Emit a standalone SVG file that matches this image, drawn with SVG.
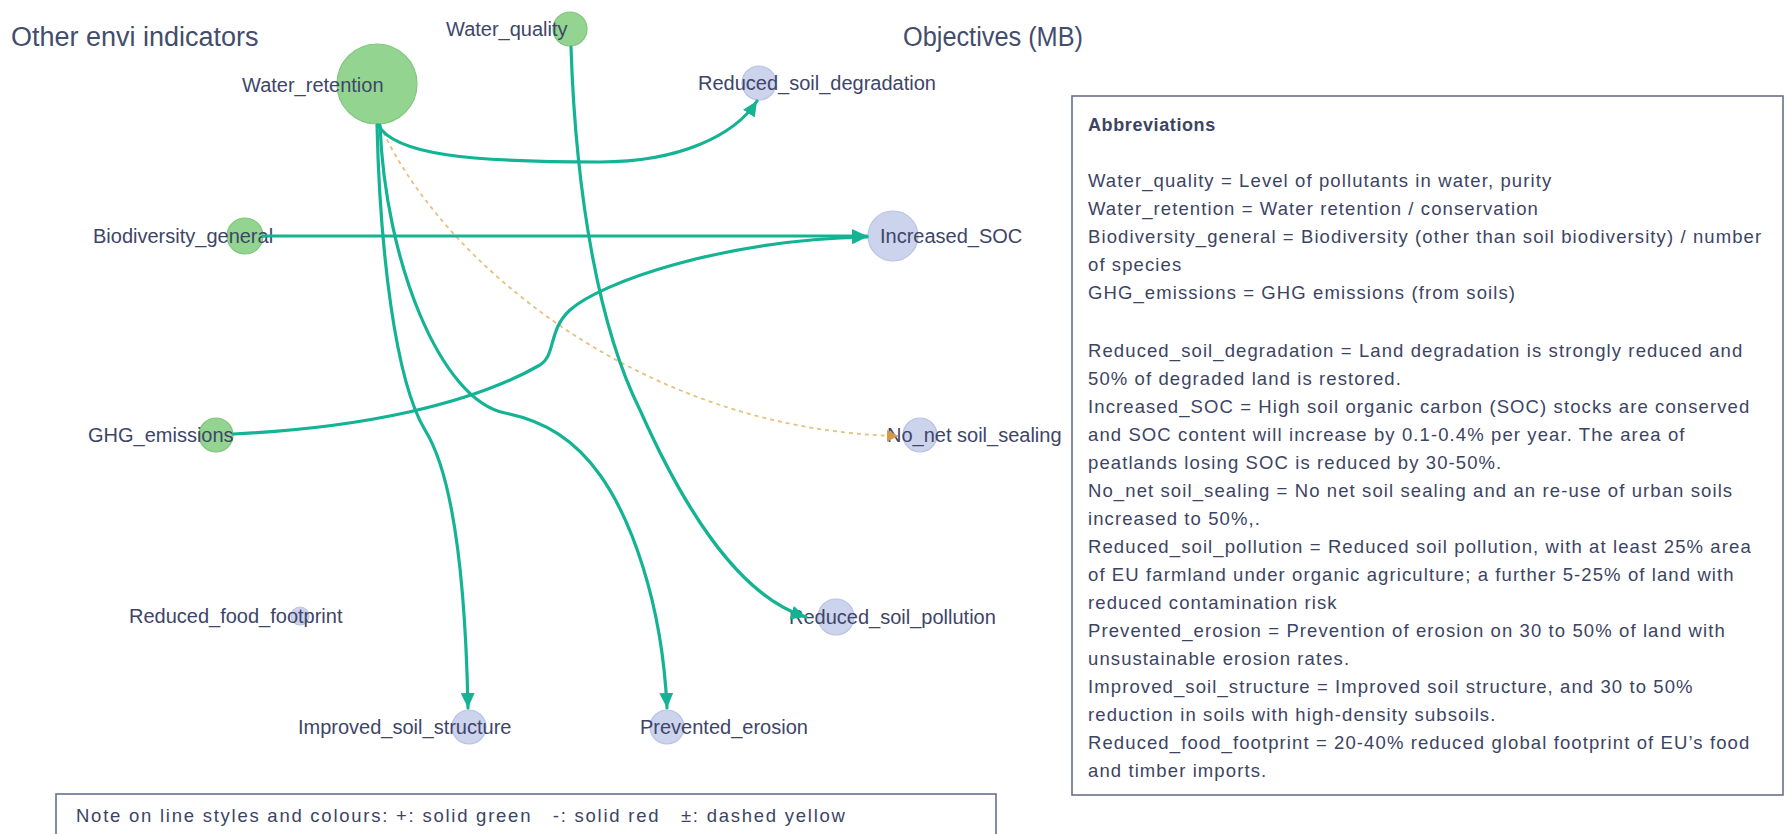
<svg xmlns="http://www.w3.org/2000/svg" width="1786" height="834" viewBox="0 0 1786 834">
<defs>
<style>
.title{font-family:"Liberation Sans",Arial,sans-serif;font-size:27px;fill:#434d6c}
.lbl{font-family:"Liberation Sans",Arial,sans-serif;font-size:20px;fill:#3e4569}
.gn{fill:#93d590;stroke:#80c77d;stroke-width:1.2}
.bn{fill:#ccd3ec;stroke:#b9c3e3;stroke-width:1.2}
.edge{fill:none;stroke:#14b394;stroke-width:3.2;stroke-linecap:round}
.dash{fill:none;stroke:#e6c07c;stroke-width:1.8;stroke-dasharray:4 4}
.box{fill:#ffffff;stroke:#66718c;stroke-width:1.6}
.ab{font-family:"Liberation Sans",Arial,sans-serif;font-size:18.5px;letter-spacing:1.1px;fill:#3c4463}
.abh{font-family:"Liberation Sans",Arial,sans-serif;font-size:18px;font-weight:bold;letter-spacing:0.6px;fill:#3c4463}
</style>
<marker id="arr" markerUnits="userSpaceOnUse" markerWidth="16" markerHeight="14" refX="15" refY="7" orient="auto">
<path d="M0,0 L15,7 L0,14 z" fill="#14b394"/>
</marker>
<marker id="arrY" markerUnits="userSpaceOnUse" markerWidth="12" markerHeight="12" refX="11" refY="6" orient="auto">
<path d="M0,0 L11,6 L0,12 z" fill="#d49a45"/>
</marker>
</defs>
<rect width="1786" height="834" fill="#ffffff"/>

<text class="title" x="11" y="46">Other envi indicators</text>
<text class="title" x="903" y="46" textLength="180" lengthAdjust="spacingAndGlyphs">Objectives (MB)</text>

<g id="node-water-quality"><circle class="gn" cx="570" cy="29" r="17"/><text class="lbl" x="446" y="36">Water_quality</text></g>
<g id="node-water-retention"><circle class="gn" cx="377" cy="84" r="40"/><text class="lbl" x="242" y="92">Water_retention</text></g>
<g id="node-biodiversity-general"><circle class="gn" cx="245" cy="236" r="18"/><text class="lbl" x="93" y="243">Biodiversity_general</text></g>
<g id="node-ghg-emissions"><circle class="gn" cx="216" cy="435" r="17"/><text class="lbl" x="88" y="442">GHG_emissions</text></g>
<g id="node-reduced-soil-degradation"><circle class="bn" cx="759" cy="83" r="17"/><text class="lbl" x="698" y="90">Reduced_soil_degradation</text></g>
<g id="node-increased-soc"><circle class="bn" cx="893" cy="236" r="25"/><text class="lbl" x="880" y="243">Increased_SOC</text></g>
<g id="node-no-net-soil-sealing"><circle class="bn" cx="920" cy="435" r="17"/><text class="lbl" x="887" y="442">No_net soil_sealing</text></g>
<g id="node-reduced-soil-pollution"><circle class="bn" cx="836" cy="617" r="18"/><text class="lbl" x="789" y="624">Reduced_soil_pollution</text></g>
<g id="node-reduced-food-footprint"><circle class="bn" cx="300" cy="616" r="9"/><text class="lbl" x="129" y="623">Reduced_food_footprint</text></g>
<g id="node-improved-soil-structure"><circle class="bn" cx="469" cy="727" r="17"/><text class="lbl" x="298" y="734">Improved_soil_structure</text></g>
<g id="node-prevented-erosion"><circle class="bn" cx="667" cy="727" r="17"/><text class="lbl" x="640" y="734">Prevented_erosion</text></g>

<g id="connectors">
<path class="dash" d="M380,125 C440,260 640,430 898,436" marker-end="url(#arrY)"/>
<path class="edge" d="M378,125 C395,155 470,162 600,162 C680,162 735,135 757,101" marker-end="url(#arr)"/>
<path class="edge" d="M263,236 L867,236" marker-end="url(#arr)"/>
<path class="edge" d="M233,434 C360,428 470,405 540,365 C556,355 548,330 570,310 C600,283 720,240 867,237" marker-end="url(#arr)"/>
<path class="edge" d="M377,125 C380,250 395,380 425,430 C450,470 465,560 468,708" marker-end="url(#arr)"/>
<path class="edge" d="M380,125 C385,260 440,400 505,413 C545,421 575,440 600,475 C630,517 662,600 667,708" marker-end="url(#arr)"/>
<path class="edge" d="M571,47 C576,200 600,330 640,410 C680,500 735,595 806,617" marker-end="url(#arr)"/>
</g>

<g id="abbreviations">
<rect class="box" x="1072" y="96" width="711" height="699"/>
<text class="abh" x="1088" y="131">Abbreviations</text>
<text class="ab" x="1088" y="186.5">Water_quality = Level of pollutants in water, purity</text>
<text class="ab" x="1088" y="214.5">Water_retention = Water retention / conservation</text>
<text class="ab" x="1088" y="242.5">Biodiversity_general = Biodiversity (other than soil biodiversity) / number</text>
<text class="ab" x="1088" y="270.5">of species</text>
<text class="ab" x="1088" y="298.5">GHG_emissions = GHG emissions (from soils)</text>
<text class="ab" x="1088" y="356.5">Reduced_soil_degradation = Land degradation is strongly reduced and</text>
<text class="ab" x="1088" y="384.5">50% of degraded land is restored.</text>
<text class="ab" x="1088" y="412.5">Increased_SOC = High soil organic carbon (SOC) stocks are conserved</text>
<text class="ab" x="1088" y="440.5">and SOC content will increase by 0.1-0.4% per year. The area of</text>
<text class="ab" x="1088" y="468.5">peatlands losing SOC is reduced by 30-50%.</text>
<text class="ab" x="1088" y="496.5">No_net soil_sealing = No net soil sealing and an re-use of urban soils</text>
<text class="ab" x="1088" y="524.5">increased to 50%,.</text>
<text class="ab" x="1088" y="552.5">Reduced_soil_pollution = Reduced soil pollution, with at least 25% area</text>
<text class="ab" x="1088" y="580.5">of EU farmland under organic agriculture; a further 5-25% of land with</text>
<text class="ab" x="1088" y="608.5">reduced contamination risk</text>
<text class="ab" x="1088" y="636.5">Prevented_erosion = Prevention of erosion on 30 to 50% of land with</text>
<text class="ab" x="1088" y="664.5">unsustainable erosion rates.</text>
<text class="ab" x="1088" y="692.5">Improved_soil_structure = Improved soil structure, and 30 to 50%</text>
<text class="ab" x="1088" y="720.5">reduction in soils with high-density subsoils.</text>
<text class="ab" x="1088" y="748.5">Reduced_food_footprint = 20-40% reduced global footprint of EU’s food</text>
<text class="ab" x="1088" y="776.5">and timber imports.</text>
</g>

<g id="note">
<rect class="box" x="56" y="794" width="940" height="60"/>
<text class="ab" x="76" y="822" textLength="770" lengthAdjust="spacing" xml:space="preserve">Note on line styles and colours: +: solid green   -: solid red   ±: dashed yellow</text>
</g>
</svg>
